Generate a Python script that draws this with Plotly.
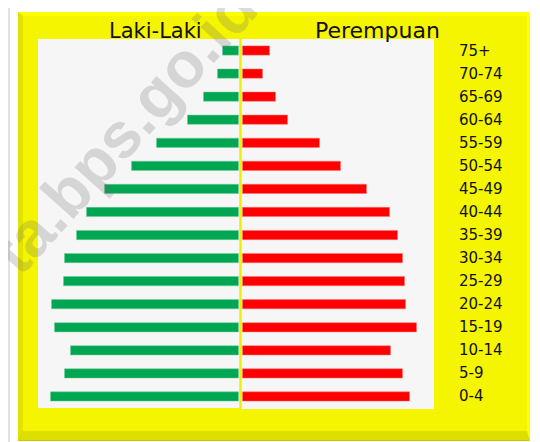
import plotly.graph_objects as go

# Age groups bottom -> top
age_groups = ["0-4", "5-9", "10-14", "15-19", "20-24", "25-29", "30-34", "35-39",
              "40-44", "45-49", "50-54", "55-59", "60-64", "65-69", "70-74", "75+"]
# Estimated values (arbitrary units)
laki_laki = [188, 174, 168, 184, 187, 175, 174, 162, 152, 134, 107, 82, 51, 35, 21, 16]
perempuan = [167, 160, 148, 174, 163, 162, 160, 155, 147, 124, 98, 77, 45, 33, 20, 27]
titles = ["Laki-Laki", "Perempuan"]
watermark = "ta.bps.go.id"

OFF = 8  # page body margin offset
W, H = 540 - OFF, 442 - OFF
# plot area in screen pixels: x 38..434, y 39..408
SX0, SX1, SY0, SY1 = 38, 434, 39, 408
ML, MT = SX0 - OFF, SY0 - OFF
MR, MB = W - (SX1 - OFF), H - (SY1 - OFF)
PW, PH = SX1 - SX0, SY1 - SY0
GAP = 2
CENTER_PX = 240.5


def px(x):
    return (x - SX0) / PW


def py(y):
    return (SY1 - y) / PH


fig = go.Figure()
fig.add_trace(go.Bar(
    y=age_groups, x=[-v for v in laki_laki], base=-GAP, orientation="h",
    marker=dict(color="#00a651", line=dict(color="#6fcf97", width=0.5)),
    width=0.4, name=titles[0], hoverinfo="skip"))
fig.add_trace(go.Bar(
    y=age_groups, x=perempuan, base=GAP, orientation="h",
    marker=dict(color="#ff0000", line=dict(color="#ff7070", width=0.5)),
    width=0.4, name=titles[1], hoverinfo="skip"))

shapes = []


def rect(x0, y0, x1, y1, color, layer="below"):
    shapes.append(dict(type="rect", xref="paper", yref="paper",
                       x0=px(x0), x1=px(x1), y0=py(y1), y1=py(y0),
                       fillcolor=color, line=dict(width=0), layer=layer))


def poly(points, color):
    d = "M " + " L ".join(f"{px(a)},{py(b)}" for a, b in points) + " Z"
    shapes.append(dict(type="path", xref="paper", yref="paper", path=d,
                       fillcolor=color, line=dict(width=0), layer="below"))


# shadowed white card
rect(8, 4, 12, 442, "#e2e2e2")
rect(10, 4, 538, 442, "#ffffff")
# yellow beveled frame
rect(18, 12, 530, 441, "#c8c800")
poly([(18, 12), (530, 12), (530, 441), (527, 433), (527, 16), (23, 16)], "#ffff00")
poly([(18, 12), (23, 16), (23, 431), (18, 441)], "#e2e200")
poly([(19, 440), (23, 431), (527, 431), (529, 440)], "#dede00")
rect(23, 16, 527, 431, "#f5f500")
# grey panels
rect(38, 39, 239.5, 408, "#f6f6f6")
rect(241.5, 39, 434, 409, "#f6f6f6")

# center line
shapes.append(dict(type="line", xref="paper", yref="paper",
                   x0=px(CENTER_PX), x1=px(CENTER_PX), y0=py(409), y1=py(39),
                   line=dict(color="#f0f000", width=2), layer="above"))

annotations = []
for lab in age_groups:
    annotations.append(dict(x=px(457), xref="paper", y=lab, yref="y",
                            text=lab, showarrow=False, xanchor="left", yanchor="middle",
                            font=dict(family="DejaVu Sans", size=15, color="#111111")))
annotations.append(dict(x=px(155), y=py(40), xref="paper", yref="paper", text=titles[0],
                        showarrow=False, xanchor="center", yanchor="bottom", yshift=-5,
                        font=dict(family="DejaVu Sans", size=21, color="#111111")))
annotations.append(dict(x=px(377), y=py(40), xref="paper", yref="paper", text=titles[1],
                        showarrow=False, xanchor="center", yanchor="bottom", yshift=-5,
                        font=dict(family="DejaVu Sans", size=22, color="#111111")))
annotations.append(dict(x=px(124), y=py(130), xref="paper", yref="paper", text=watermark,
                        showarrow=False, textangle=-48, xanchor="center", yanchor="middle",
                        font=dict(family="Liberation Sans", size=64, weight="bold",
                                  color="rgba(110,110,110,0.24)")))

fig.update_layout(
    width=W, height=H,
    margin=dict(l=ML, r=MR, t=MT, b=MB),
    paper_bgcolor="#ffffff", plot_bgcolor="rgba(0,0,0,0)",
    barmode="overlay", showlegend=False,
    xaxis=dict(range=[-(CENTER_PX - SX0), SX1 - CENTER_PX], visible=False, fixedrange=True),
    yaxis=dict(categoryorder="array", categoryarray=age_groups, visible=False,
               range=[-0.5, len(age_groups) - 0.5], fixedrange=True),
    shapes=shapes, annotations=annotations,
)

fig.write_html("out.html")
